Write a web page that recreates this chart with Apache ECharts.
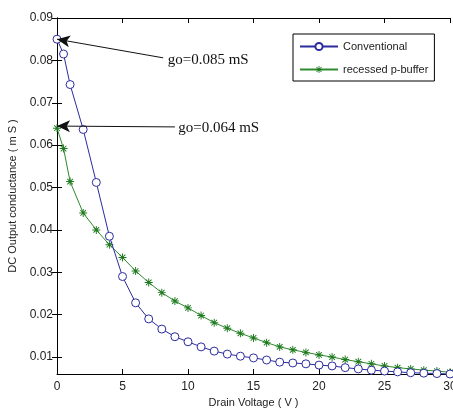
<!DOCTYPE html>
<html>
<head>
<meta charset="utf-8">
<script src="https://cdn.jsdelivr.net/npm/echarts@6/dist/echarts.min.js"></script>
<style>
  html, body { margin: 0; padding: 0; background: #fff; }
  #chart { width: 453px; height: 412px; }
</style>
</head>
<body>
<div id="chart"></div>
<script>
const drainVoltage = [0, 0.5, 1, 2, 3, 4, 5, 6, 7, 8, 9, 10, 11, 12, 13, 14, 15, 16, 17, 18, 19, 20, 21, 22, 23, 24, 25, 26, 27, 28, 29, 30];
const conventional = [0.085, 0.0815, 0.0743, 0.0637, 0.0512, 0.0385, 0.029, 0.0228, 0.019, 0.0166, 0.0148, 0.0136, 0.0124, 0.0114, 0.0107, 0.0102, 0.0098, 0.0093, 0.0088, 0.0086, 0.0084, 0.0081, 0.0079, 0.0075, 0.0072, 0.0069, 0.0067, 0.0065, 0.0063, 0.0062, 0.0061, 0.006];
const recessed = [0.064, 0.0592, 0.0514, 0.044, 0.04, 0.0365, 0.0335, 0.0303, 0.0276, 0.0252, 0.0232, 0.0216, 0.0198, 0.0181, 0.0168, 0.0156, 0.0145, 0.0134, 0.0124, 0.0117, 0.0111, 0.0105, 0.01, 0.0094, 0.0089, 0.0084, 0.0079, 0.0075, 0.0072, 0.0069, 0.0067, 0.0064];
const yTicks = [0.01, 0.02, 0.03, 0.04, 0.05, 0.06, 0.07, 0.08, 0.09];

// asterisk marker (MATLAB '*')
const star = "path://M4.4,0 H5.6 V10 H4.4 Z M0,4.4 H10 V5.6 H0 Z " +
  "M1.92,1.08 L8.92,8.08 L8.08,8.92 L1.08,1.92 Z " +
  "M8.08,1.08 L8.92,1.92 L1.92,8.92 L1.08,8.08 Z";

const chart = echarts.init(document.getElementById("chart"));
const axisLine = { lineStyle: { color: "#000", width: 1 } };
const labelFont = { color: "#222", fontSize: 12, fontFamily: "Liberation Sans, Arial" };

chart.setOption({
  animation: false,
  backgroundColor: "#fff",
  grid: { left: 57, top: 18, right: 3, bottom: 38, outerBoundsMode: "none", containLabel: false },
  legend: {
    orient: "vertical",
    left: 293,
    top: 34,
    width: 143,
    padding: [7, 6, 6, 6],
    itemWidth: 38,
    itemHeight: 9,
    itemGap: 12,
    backgroundColor: "#fff",
    borderColor: "#000",
    borderWidth: 1,
    borderRadius: 0,
    textStyle: { color: "#222", fontSize: 11, fontFamily: "Liberation Sans, Arial" },
    data: ["Conventional", "recessed p-buffer"],
  },
  xAxis: [
    {
      type: "value",
      min: 0,
      max: 30,
      interval: 5,
      name: "Drain Voltage ( V )",
      nameLocation: "middle",
      nameGap: 23,
      nameTextStyle: { color: "#222", fontSize: 11, fontFamily: "Liberation Sans, Arial" },
      axisLine: axisLine,
      axisTick: { inside: true, length: 5, lineStyle: { color: "#000" } },
      axisLabel: Object.assign({ margin: 7 }, labelFont),
      splitLine: { show: false },
    },
    {
      type: "value",
      position: "top",
      min: 0,
      max: 30,
      interval: 5,
      axisLine: axisLine,
      axisTick: { inside: true, length: 5, lineStyle: { color: "#000" } },
      axisLabel: { show: false },
      splitLine: { show: false },
    },
  ],
  yAxis: [
    {
      type: "value",
      min: 0.006,
      max: 0.09,
      name: "DC Output conductance ( m S )",
      nameLocation: "middle",
      nameGap: 35,
      nameTextStyle: { color: "#222", fontSize: 11, fontFamily: "Liberation Sans, Arial" },
      axisLine: axisLine,
      axisTick: { inside: true, length: 5, customValues: yTicks, lineStyle: { color: "#000" } },
      axisLabel: Object.assign({
        margin: 4,
        customValues: yTicks,
        formatter: (v) => v.toFixed(2),
      }, labelFont),
      splitLine: { show: false },
    },
    {
      type: "value",
      position: "right",
      min: 0.006,
      max: 0.09,
      axisLine: axisLine,
      axisTick: { inside: true, length: 5, customValues: yTicks, lineStyle: { color: "#000" } },
      axisLabel: { show: false },
      splitLine: { show: false },
    },
  ],
  series: [
    {
      name: "Conventional",
      type: "line",
      clip: false,
      data: drainVoltage.map((x, i) => [x, conventional[i]]),
      symbol: "circle",
      symbolSize: 8,
      lineStyle: { color: "#2b2b9e", width: 1 },
      itemStyle: { color: "#fff", borderColor: "#2b2b9e", borderWidth: 1 },
      emphasis: { disabled: true },
      z: 3,
      markLine: {
        silent: true,
        symbol: ["none", "arrow"],
        symbolSize: [9, 13],
        label: { show: false },
        lineStyle: { color: "#111", width: 1, type: "solid" },
        data: [
          [{ coord: [8.1, 0.0806] }, { coord: [0, 0.085] }],
          [{ coord: [9.0, 0.0643] }, { coord: [0, 0.0645] }],
        ],
      },
      markPoint: {
        silent: true,
        symbol: "rect",
        symbolSize: 0,
        label: {
          show: true,
          position: "right",
          distance: 0,
          color: "#111",
          fontSize: 15,
          fontFamily: "Liberation Serif, Times New Roman",
        },
        data: [
          { coord: [8.45, 0.0801], label: { formatter: "go=0.085 mS" } },
          { coord: [9.25, 0.064], label: { formatter: "go=0.064 mS" } },
        ],
      },
    },
    {
      name: "recessed p-buffer",
      type: "line",
      clip: false,
      data: drainVoltage.map((x, i) => [x, recessed[i]]),
      symbol: star,
      symbolSize: 8,
      lineStyle: { color: "#2e8b2e", width: 1 },
      itemStyle: { color: "#1f7a1f" },
      emphasis: { disabled: true },
      z: 2,
    },
  ],
});
</script>
</body>
</html>
